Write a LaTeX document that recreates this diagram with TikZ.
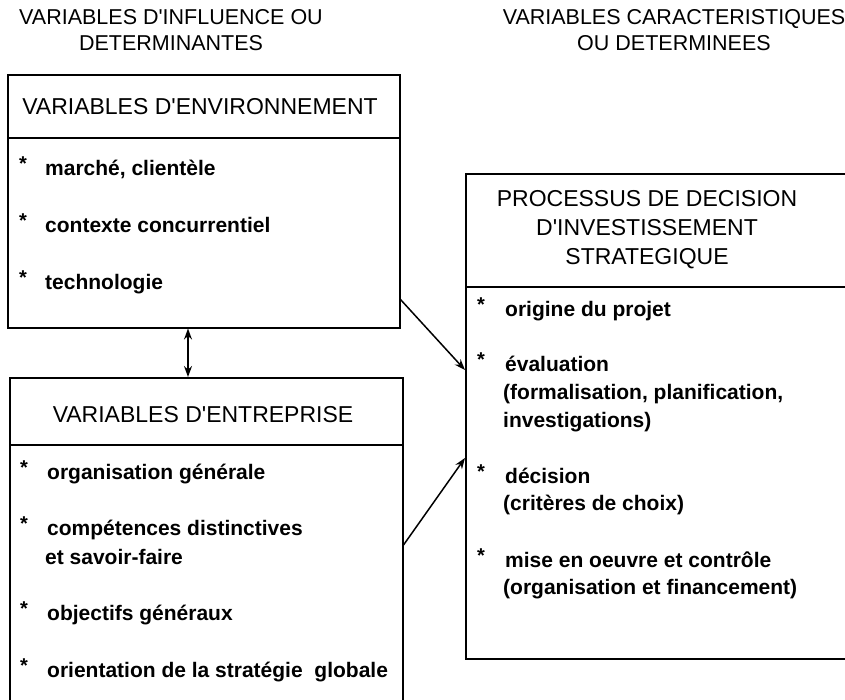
\documentclass[tikz,border=0pt]{standalone}
\usepackage{fontspec}
\setmainfont{Liberation Sans}
\usetikzlibrary{arrows.meta,calc}
\newcommand{\apos}{\textquotesingle}
\begin{document}
\begin{tikzpicture}[x=1pt,y=1pt,
  boxframe/.style={draw, line width=1.5pt, inner sep=0pt, anchor=north west},
  heading/.style={font=\fontsize{21.5}{26}\selectfont, align=center},
  titletext/.style={font=\fontsize{23}{29}\selectfont, align=center},
  star/.style={font=\bfseries\fontsize{20}{28}\selectfont, anchor=mid west, inner sep=0pt},
  item/.style={font=\bfseries\fontsize{21}{28}\selectfont, anchor=mid west, inner sep=0pt},
  conn/.style={line width=1.5pt, -{Stealth[length=11pt,width=8pt]}},
  dconn/.style={line width=1.5pt, {Stealth[length=11pt,width=8pt]}-{Stealth[length=11pt,width=8pt]}}
]
\useasboundingbox (0,0) rectangle (845,-699);
\clip (0,0) rectangle (845,-699);
% headings
\node[heading] (h1) at (171,-30) {VARIABLES D\apos INFLUENCE OU\\DETERMINANTES};
\node[heading] (h2) at (674,-30) {VARIABLES CARACTERISTIQUES\\OU DETERMINEES};
% boxes
\node[boxframe, minimum width=392pt, minimum height=253pt] (env) at (7,-74) {};
\node[boxframe, minimum width=393pt, minimum height=340pt] (ent) at (9,-377) {};
\node[boxframe, minimum width=400pt, minimum height=485pt] (proc) at (465,-173) {};
% dividers
\draw[line width=1.5pt] ($(env.north west)+(0,-64)$) -- ($(env.north east)+(0,-64)$);
\draw[line width=1.5pt] ($(ent.north west)+(0,-68)$) -- ($(ent.north east)+(0,-68)$);
\draw[line width=1.5pt] ($(proc.north west)+(0,-114)$) -- ($(proc.north east)+(0,-114)$);
% titles
\node[titletext] (t1) at (200,-107) {VARIABLES D\apos ENVIRONNEMENT};
\node[titletext] (t2) at (203,-415) {VARIABLES D\apos ENTREPRISE};
\node[titletext] (t3) at (647,-230) {PROCESSUS DE DECISION\\D\apos INVESTISSEMENT\\STRATEGIQUE};
% env items
\node[star] (s11) at (19,-168) {*};
\node[item] (i11) at (45,-173) {marché, clientèle};
\node[star] (s12) at (19,-225) {*};
\node[item] (i12) at (45,-230) {contexte concurrentiel};
\node[star] (s13) at (19,-282) {*};
\node[item] (i13) at (45,-287) {technologie};
% ent items
\node[star] (s21) at (20,-472) {*};
\node[item] (i21) at (47,-477) {organisation générale};
\node[star] (s22) at (20,-528) {*};
\node[item] (i22) at (47,-533) {compétences distinctives};
\node[item] (i22b) at (45,-562) {et savoir-faire};
\node[star] (s23) at (20,-613) {*};
\node[item] (i23) at (47,-618) {objectifs généraux};
\node[star] (s24) at (20,-670) {*};
\node[item] (i24) at (47,-675) {orientation de la stratégie\ \ globale};
% proc items
\node[star] (s31) at (477,-309) {*};
\node[item] (i31) at (505,-314) {origine du projet};
\node[star] (s32) at (477,-364) {*};
\node[item] (i32) at (505,-369) {évaluation};
\node[item] (i32b) at (503,-397) {(formalisation, planification,};
\node[item] (i32c) at (503,-425) {investigations)};
\node[star] (s33) at (477,-476) {*};
\node[item] (i33) at (505,-481) {décision};
\node[item] (i33b) at (503,-508) {(critères de choix)};
\node[star] (s34) at (477,-560) {*};
\node[item] (i34) at (505,-565) {mise en oeuvre et contrôle};
\node[item] (i34b) at (503,-592) {(organisation et financement)};
% connectors
\draw[conn] ($(env.south east)+(0,29)$) -- ($(proc.north west)+(0,-197)$);
\draw[conn] ($(ent.north east)+(0,-168)$) -- ($(proc.north west)+(0,-285)$);
\draw[dconn] ($(env.south west)+(181,0)$) -- ($(ent.north west)+(179,0)$);
\end{tikzpicture}
\end{document}
